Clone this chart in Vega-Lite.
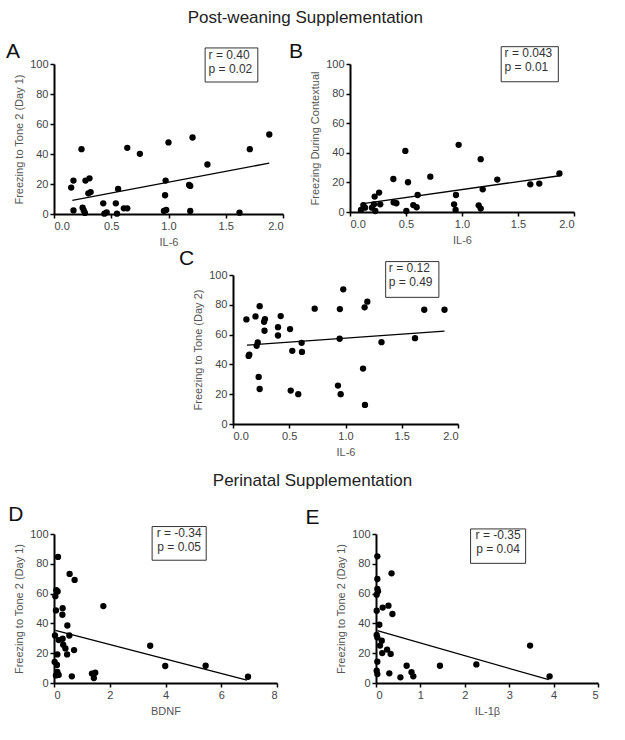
{
  "$schema": "https://vega.github.io/schema/vega-lite/v6.json",
  "padding": {"left": 5, "top": 8, "right": 5, "bottom": 5},
  "background": "white",
  "config": {
    "font": "Liberation Sans",
    "view": {"stroke": null},
    "axis": {"domainColor": "black", "domainWidth": 2, "tickColor": "black", "tickWidth": 1.5, "tickSize": 4, "grid": false, "labelFontSize": 11, "labelColor": "#444", "titleFontSize": 11, "titleFontWeight": "normal", "titleColor": "#555", "labelPadding": 2, "titlePadding": 5, "labelFont": "Liberation Sans", "titleFont": "Liberation Sans", "labelOverlap": false},
    "title": {"font": "Liberation Sans", "fontWeight": "normal", "fontSize": 17, "color": "#222", "anchor": "middle"}
  },
  "datasets": {
    "A": [{"x":0.15,"y":17.6},{"x":0.17,"y":22.3},{"x":0.17,"y":2.4},{"x":0.24,"y":43.2},{"x":0.25,"y":4.2},{"x":0.26,"y":2.4},{"x":0.27,"y":0.7},{"x":0.275,"y":22.3},{"x":0.31,"y":23.8},{"x":0.3,"y":13.8},{"x":0.32,"y":14.6},{"x":0.43,"y":7.1},{"x":0.44,"y":0.2},{"x":0.46,"y":1.1},{"x":0.54,"y":7.1},{"x":0.55,"y":0.2},{"x":0.56,"y":16.7},{"x":0.61,"y":3.8},{"x":0.64,"y":3.8},{"x":0.64,"y":44.1},{"x":0.75,"y":40.1},{"x":0.96,"y":2},{"x":0.98,"y":2.7},{"x":0.97,"y":12.5},{"x":0.975,"y":22.3},{"x":1.0,"y":47.7},{"x":1.18,"y":19.4},{"x":1.19,"y":18.7},{"x":1.19,"y":2},{"x":1.21,"y":51},{"x":1.34,"y":33},{"x":1.62,"y":0.9},{"x":1.71,"y":43.2},{"x":1.88,"y":53}],
    "lineA": [{"x":0.16,"y":9.1},{"x":1.88,"y":33.9}],
    "B": [{"x":0.098,"y":1.4},{"x":0.119,"y":4.7},{"x":0.134,"y":2.9},{"x":0.196,"y":2.9},{"x":0.214,"y":5.2},{"x":0.226,"y":0.7},{"x":0.22,"y":10.4},{"x":0.26,"y":13.1},{"x":0.27,"y":5.2},{"x":0.39,"y":6.5},{"x":0.414,"y":5.9},{"x":0.387,"y":22.3},{"x":0.503,"y":0.7},{"x":0.494,"y":41.3},{"x":0.518,"y":20.1},{"x":0.565,"y":4.7},{"x":0.595,"y":3.2},{"x":0.604,"y":11.5},{"x":0.717,"y":23.9},{"x":0.946,"y":11.5},{"x":0.929,"y":5.2},{"x":0.943,"y":1.4},{"x":0.97,"y":45.4},{"x":1.149,"y":4.5},{"x":1.167,"y":2.3},{"x":1.167,"y":35.7},{"x":1.185,"y":15.3},{"x":1.315,"y":21.9},{"x":1.61,"y":18.7},{"x":1.69,"y":19.2},{"x":1.87,"y":26}],
    "lineB": [{"x":0.1,"y":5.5},{"x":1.87,"y":24.5}],
    "C": [{"x":0.119,"y":70.2},{"x":0.139,"y":45.7},{"x":0.145,"y":46.6},{"x":0.2,"y":72.2},{"x":0.21,"y":52.5},{"x":0.22,"y":54.7},{"x":0.228,"y":31.6},{"x":0.237,"y":79.1},{"x":0.237,"y":23.5},{"x":0.276,"y":68.6},{"x":0.284,"y":70.4},{"x":0.28,"y":62.6},{"x":0.4,"y":65},{"x":0.4,"y":59.4},{"x":0.424,"y":72.4},{"x":0.507,"y":63.7},{"x":0.527,"y":49.1},{"x":0.513,"y":22.4},{"x":0.58,"y":20},{"x":0.61,"y":54.5},{"x":0.613,"y":48.4},{"x":0.726,"y":77.4},{"x":0.95,"y":77.1},{"x":0.948,"y":57.2},{"x":0.933,"y":25.8},{"x":0.957,"y":20},{"x":0.98,"y":90.4},{"x":1.17,"y":78.3},{"x":1.194,"y":82.1},{"x":1.156,"y":37.2},{"x":1.173,"y":12.8},{"x":1.32,"y":54.9},{"x":1.618,"y":57.6},{"x":1.7,"y":76.7},{"x":1.88,"y":76.7}],
    "lineC": [{"x":0.124,"y":52.9},{"x":1.88,"y":62.3}],
    "D": [{"x":0.143,"y":84.6},{"x":0.56,"y":73.2},{"x":0.74,"y":69.2},{"x":0.084,"y":62.3},{"x":0.13,"y":61.4},{"x":0.048,"y":58.3},{"x":0.07,"y":48.7},{"x":0.31,"y":50.2},{"x":0.3,"y":45.8},{"x":1.77,"y":51.6},{"x":0.48,"y":38.6},{"x":0.036,"y":31.9},{"x":0.55,"y":31.9},{"x":0.167,"y":28.8},{"x":0.31,"y":29.7},{"x":0.33,"y":25.7},{"x":0.41,"y":23.2},{"x":0.47,"y":19.2},{"x":0.72,"y":22.1},{"x":0.12,"y":19.2},{"x":3.45,"y":25},{"x":3.99,"y":11.4},{"x":5.44,"y":11.6},{"x":6.96,"y":4.2},{"x":0.024,"y":14.1},{"x":0.107,"y":12.1},{"x":0.12,"y":7.4},{"x":0.07,"y":5.1},{"x":0.167,"y":5.4},{"x":0.64,"y":4.5},{"x":1.36,"y":6.3},{"x":1.48,"y":6.9},{"x":1.43,"y":3.3}],
    "lineD": [{"x":0.048,"y":35.3},{"x":6.92,"y":2.0}],
    "E": [{"x":0.03,"y":85},{"x":0.35,"y":73.6},{"x":0.03,"y":69.8},{"x":0.03,"y":63.1},{"x":0.045,"y":61.5},{"x":0.015,"y":59.3},{"x":0.15,"y":50.6},{"x":0.28,"y":51.9},{"x":0.37,"y":46.3},{"x":0.015,"y":48.5},{"x":0.075,"y":39.1},{"x":0.015,"y":32.2},{"x":0.03,"y":30.6},{"x":0.13,"y":28.4},{"x":0.09,"y":25.1},{"x":0.25,"y":22.4},{"x":0.14,"y":20.1},{"x":0.33,"y":19.5},{"x":0.03,"y":14.3},{"x":0.015,"y":8.3},{"x":0.03,"y":6},{"x":0.3,"y":6.5},{"x":0.55,"y":3.8},{"x":0.69,"y":11.6},{"x":0.8,"y":7.2},{"x":0.84,"y":4.5},{"x":1.44,"y":11.6},{"x":2.26,"y":12.5},{"x":3.47,"y":25.1},{"x":3.91,"y":4.5}],
    "lineE": [{"x":0.03,"y":35.1},{"x":3.89,"y":2.2}],
    "one": [{"k": 1}]
  },
  "spacing": 15,
  "vconcat": [
    {
      "title": {"text": "Post-weaning Supplementation", "anchor": "middle", "offset": 14, "dx": 15},
      "spacing": 0,
      "vconcat": [
        {
          "spacing": 4,
          "hconcat": [
            {
              "width": 229, "height": 150,
              "layer": [
                {"data": {"name": "A"}, "mark": {"type": "circle", "size": 40, "color": "black", "opacity": 1},
                 "encoding": {"x": {"field": "x", "type": "quantitative", "scale": {"domain": [0, 2]}, "axis": {"values": [0, 0.5, 1, 1.5, 2], "format": ".1f", "title": "IL-6"}},
                              "y": {"field": "y", "type": "quantitative", "scale": {"domain": [0, 100]}, "axis": {"values": [0, 20, 40, 60, 80, 100], "title": "Freezing to Tone 2 (Day 1)"}}}},
                {"data": {"name": "lineA"}, "mark": {"type": "line", "color": "black", "strokeWidth": 1.3},
                 "encoding": {"x": {"field": "x", "type": "quantitative", "axis": {"values": [0, 0.5, 1, 1.5, 2], "format": ".1f", "title": "IL-6"}}, "y": {"field": "y", "type": "quantitative", "axis": {"values": [0, 20, 40, 60, 80, 100], "title": "Freezing to Tone 2 (Day 1)"}}}},
                {"data": {"name": "one"}, "mark": {"type": "rect", "fill": "white", "stroke": "#333", "strokeWidth": 1},
                 "encoding": {"x": {"datum": 1.32, "axis": {"values": [0, 0.5, 1, 1.5, 2], "format": ".1f", "title": "IL-6"}}, "x2": {"datum": 1.78}, "y": {"datum": 110.7, "axis": {"values": [0, 20, 40, 60, 80, 100], "title": "Freezing to Tone 2 (Day 1)"}}, "y2": {"datum": 88}}},
                {"data": {"name": "one"}, "mark": {"type": "text", "text": ["r = 0.40", "p = 0.02"], "align": "left", "baseline": "top", "fontSize": 12, "lineHeight": 14, "color": "#333"},
                 "encoding": {"x": {"datum": 1.35, "axis": {"values": [0, 0.5, 1, 1.5, 2], "format": ".1f", "title": "IL-6"}}, "y": {"datum": 109.5, "axis": {"values": [0, 20, 40, 60, 80, 100], "title": "Freezing to Tone 2 (Day 1)"}}}},
                {"data": {"name": "one"}, "mark": {"type": "text", "text": "A", "align": "left", "baseline": "alphabetic", "fontSize": 21, "color": "#111"},
                 "encoding": {"x": {"datum": -0.42, "axis": {"values": [0, 0.5, 1, 1.5, 2], "format": ".1f", "title": "IL-6"}}, "y": {"datum": 104, "axis": {"values": [0, 20, 40, 60, 80, 100], "title": "Freezing to Tone 2 (Day 1)"}}}}
              ]
            },
            {
              "width": 224, "height": 148,
              "layer": [
                {"data": {"name": "B"}, "mark": {"type": "circle", "size": 40, "color": "black", "opacity": 1},
                 "encoding": {"x": {"field": "x", "type": "quantitative", "scale": {"domain": [0, 2]}, "axis": {"values": [0, 0.5, 1, 1.5, 2], "format": ".1f", "title": "IL-6"}},
                              "y": {"field": "y", "type": "quantitative", "scale": {"domain": [0, 100]}, "axis": {"values": [0, 20, 40, 60, 80, 100], "title": "Freezing During Contextual"}}}},
                {"data": {"name": "lineB"}, "mark": {"type": "line", "color": "black", "strokeWidth": 1.3},
                 "encoding": {"x": {"field": "x", "type": "quantitative", "axis": {"values": [0, 0.5, 1, 1.5, 2], "format": ".1f", "title": "IL-6"}}, "y": {"field": "y", "type": "quantitative", "axis": {"values": [0, 20, 40, 60, 80, 100], "title": "Freezing During Contextual"}}}},
                {"data": {"name": "one"}, "mark": {"type": "rect", "fill": "white", "stroke": "#333", "strokeWidth": 1},
                 "encoding": {"x": {"datum": 1.35, "axis": {"values": [0, 0.5, 1, 1.5, 2], "format": ".1f", "title": "IL-6"}}, "x2": {"datum": 1.86}, "y": {"datum": 111.7, "axis": {"values": [0, 20, 40, 60, 80, 100], "title": "Freezing During Contextual"}}, "y2": {"datum": 88}}},
                {"data": {"name": "one"}, "mark": {"type": "text", "text": ["r = 0.043", "p = 0.01"], "align": "left", "baseline": "top", "fontSize": 12, "lineHeight": 14, "color": "#333"},
                 "encoding": {"x": {"datum": 1.38, "axis": {"values": [0, 0.5, 1, 1.5, 2], "format": ".1f", "title": "IL-6"}}, "y": {"datum": 110.5, "axis": {"values": [0, 20, 40, 60, 80, 100], "title": "Freezing During Contextual"}}}},
                {"data": {"name": "one"}, "mark": {"type": "text", "text": "B", "align": "left", "baseline": "alphabetic", "fontSize": 21, "color": "#111"},
                 "encoding": {"x": {"datum": -0.545, "axis": {"values": [0, 0.5, 1, 1.5, 2], "format": ".1f", "title": "IL-6"}}, "y": {"datum": 104, "axis": {"values": [0, 20, 40, 60, 80, 100], "title": "Freezing During Contextual"}}}}
              ]
            }
          ]
        },
        {
          "spacing": 0,
          "hconcat": [
            {"width": 125, "height": 149, "data": {"name": "one"}, "mark": {"type": "point", "opacity": 0}, "encoding": {}},
            {
              "width": 225, "height": 149,
              "layer": [
                {"data": {"name": "C"}, "mark": {"type": "circle", "size": 40, "color": "black", "opacity": 1},
                 "encoding": {"x": {"field": "x", "type": "quantitative", "scale": {"domain": [0, 2]}, "axis": {"values": [0, 0.5, 1, 1.5, 2], "format": ".1f", "title": "IL-6"}},
                              "y": {"field": "y", "type": "quantitative", "scale": {"domain": [0, 100]}, "axis": {"values": [0, 20, 40, 60, 80, 100], "title": "Freezing to Tone (Day 2)"}}}},
                {"data": {"name": "lineC"}, "mark": {"type": "line", "color": "black", "strokeWidth": 1.3},
                 "encoding": {"x": {"field": "x", "type": "quantitative", "axis": {"values": [0, 0.5, 1, 1.5, 2], "format": ".1f", "title": "IL-6"}}, "y": {"field": "y", "type": "quantitative", "axis": {"values": [0, 20, 40, 60, 80, 100], "title": "Freezing to Tone (Day 2)"}}}},
                {"data": {"name": "one"}, "mark": {"type": "rect", "fill": "white", "stroke": "#333", "strokeWidth": 1},
                 "encoding": {"x": {"datum": 1.357, "axis": {"values": [0, 0.5, 1, 1.5, 2], "format": ".1f", "title": "IL-6"}}, "x2": {"datum": 1.83}, "y": {"datum": 109, "axis": {"values": [0, 20, 40, 60, 80, 100], "title": "Freezing to Tone (Day 2)"}}, "y2": {"datum": 85}}},
                {"data": {"name": "one"}, "mark": {"type": "text", "text": ["r = 0.12", "p = 0.49"], "align": "left", "baseline": "top", "fontSize": 12, "lineHeight": 14, "color": "#333"},
                 "encoding": {"x": {"datum": 1.385, "axis": {"values": [0, 0.5, 1, 1.5, 2], "format": ".1f", "title": "IL-6"}}, "y": {"datum": 108, "axis": {"values": [0, 20, 40, 60, 80, 100], "title": "Freezing to Tone (Day 2)"}}}},
                {"data": {"name": "one"}, "mark": {"type": "text", "text": "C", "align": "left", "baseline": "alphabetic", "fontSize": 21, "color": "#111"},
                 "encoding": {"x": {"datum": -0.48, "axis": {"values": [0, 0.5, 1, 1.5, 2], "format": ".1f", "title": "IL-6"}}, "y": {"datum": 107, "axis": {"values": [0, 20, 40, 60, 80, 100], "title": "Freezing to Tone (Day 2)"}}}}
              ]
            }
          ]
        }
      ]
    },
    {
      "title": {"text": "Perinatal Supplementation", "anchor": "middle", "offset": 14, "dx": 9},
      "spacing": 27,
      "hconcat": [
        {
          "width": 223, "height": 149,
          "layer": [
            {"data": {"name": "D"}, "mark": {"type": "circle", "size": 40, "color": "black", "opacity": 1},
             "encoding": {"x": {"field": "x", "type": "quantitative", "scale": {"domain": [0, 8]}, "axis": {"values": [0, 2, 4, 6, 8], "title": "BDNF"}},
                          "y": {"field": "y", "type": "quantitative", "scale": {"domain": [0, 100]}, "axis": {"values": [0, 20, 40, 60, 80, 100], "title": "Freezing to Tone 2 (Day 1)"}}}},
            {"data": {"name": "lineD"}, "mark": {"type": "line", "color": "black", "strokeWidth": 1.3},
             "encoding": {"x": {"field": "x", "type": "quantitative", "axis": {"values": [0, 2, 4, 6, 8], "title": "BDNF"}}, "y": {"field": "y", "type": "quantitative", "axis": {"values": [0, 20, 40, 60, 80, 100], "title": "Freezing to Tone 2 (Day 1)"}}}},
            {"data": {"name": "one"}, "mark": {"type": "rect", "fill": "white", "stroke": "#333", "strokeWidth": 1},
             "encoding": {"x": {"datum": 3.52, "axis": {"values": [0, 2, 4, 6, 8], "title": "BDNF"}}, "x2": {"datum": 5.46}, "y": {"datum": 105, "axis": {"values": [0, 20, 40, 60, 80, 100], "title": "Freezing to Tone 2 (Day 1)"}}, "y2": {"datum": 82.4}}},
            {"data": {"name": "one"}, "mark": {"type": "text", "text": ["r = -0.34", "p = 0.05"], "align": "center", "baseline": "top", "fontSize": 12, "lineHeight": 14, "color": "#333"},
             "encoding": {"x": {"datum": 4.49, "axis": {"values": [0, 2, 4, 6, 8], "title": "BDNF"}}, "y": {"datum": 104, "axis": {"values": [0, 20, 40, 60, 80, 100], "title": "Freezing to Tone 2 (Day 1)"}}}},
            {"data": {"name": "one"}, "mark": {"type": "text", "text": "D", "align": "left", "baseline": "alphabetic", "fontSize": 21, "color": "#111"},
             "encoding": {"x": {"datum": -1.64, "axis": {"values": [0, 2, 4, 6, 8], "title": "BDNF"}}, "y": {"datum": 108.5, "axis": {"values": [0, 20, 40, 60, 80, 100], "title": "Freezing to Tone 2 (Day 1)"}}}}
          ]
        },
        {
          "width": 222, "height": 149,
          "layer": [
            {"data": {"name": "E"}, "mark": {"type": "circle", "size": 40, "color": "black", "opacity": 1},
             "encoding": {"x": {"field": "x", "type": "quantitative", "scale": {"domain": [0, 5]}, "axis": {"values": [0, 1, 2, 3, 4, 5], "title": "IL-1β"}},
                          "y": {"field": "y", "type": "quantitative", "scale": {"domain": [0, 100]}, "axis": {"values": [0, 20, 40, 60, 80, 100], "title": "Freezing to Tone 2 (Day 1)"}}}},
            {"data": {"name": "lineE"}, "mark": {"type": "line", "color": "black", "strokeWidth": 1.3},
             "encoding": {"x": {"field": "x", "type": "quantitative", "axis": {"values": [0, 1, 2, 3, 4, 5], "title": "IL-1β"}}, "y": {"field": "y", "type": "quantitative", "axis": {"values": [0, 20, 40, 60, 80, 100], "title": "Freezing to Tone 2 (Day 1)"}}}},
            {"data": {"name": "one"}, "mark": {"type": "rect", "fill": "white", "stroke": "#333", "strokeWidth": 1},
             "encoding": {"x": {"datum": 2.13, "axis": {"values": [0, 1, 2, 3, 4, 5], "title": "IL-1β"}}, "x2": {"datum": 3.37}, "y": {"datum": 103.4, "axis": {"values": [0, 20, 40, 60, 80, 100], "title": "Freezing to Tone 2 (Day 1)"}}, "y2": {"datum": 80.3}}},
            {"data": {"name": "one"}, "mark": {"type": "text", "text": ["r = -0.35", "p = 0.04"], "align": "center", "baseline": "top", "fontSize": 12, "lineHeight": 14, "color": "#333"},
             "encoding": {"x": {"datum": 2.75, "axis": {"values": [0, 1, 2, 3, 4, 5], "title": "IL-1β"}}, "y": {"datum": 102.4, "axis": {"values": [0, 20, 40, 60, 80, 100], "title": "Freezing to Tone 2 (Day 1)"}}}},
            {"data": {"name": "one"}, "mark": {"type": "text", "text": "E", "align": "left", "baseline": "alphabetic", "fontSize": 21, "color": "#111"},
             "encoding": {"x": {"datum": -1.59, "axis": {"values": [0, 1, 2, 3, 4, 5], "title": "IL-1β"}}, "y": {"datum": 106.7, "axis": {"values": [0, 20, 40, 60, 80, 100], "title": "Freezing to Tone 2 (Day 1)"}}}}
          ]
        }
      ]
    }
  ]
}
